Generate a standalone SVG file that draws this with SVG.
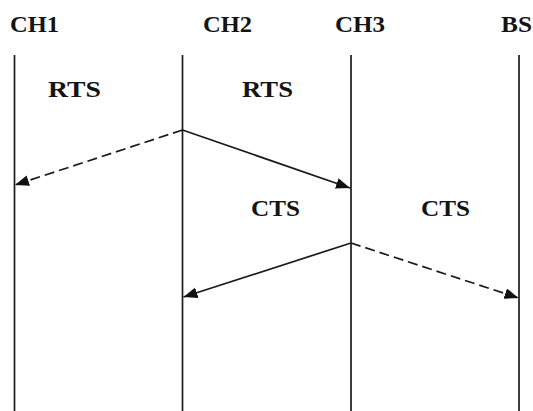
<svg xmlns="http://www.w3.org/2000/svg" width="533" height="411" viewBox="0 0 533 411">
  <style>
    .lbl { font-family: "Liberation Serif", "Times New Roman", serif; font-weight: bold; font-size: 24px; fill: #141414; }
    .life { stroke: #1a1a1a; stroke-width: 1.7; fill: none; }
    .msg { stroke: #1a1a1a; stroke-width: 1.7; fill: none; }
    .dash { stroke-dasharray: 10 5; }
  </style>
  <defs>
    <marker id="arr" markerUnits="userSpaceOnUse" markerWidth="16" markerHeight="12" refX="14" refY="5.5" orient="auto">
      <path d="M0,0 L14,5.5 L0,11 z" fill="#111"/>
    </marker>
  </defs>
  <rect width="533" height="411" fill="#fff"/>
  <g id="CH1">
    <text class="lbl" x="10" y="32" textLength="49" lengthAdjust="spacingAndGlyphs">CH1</text>
    <line class="life" x1="14.5" y1="55" x2="14.5" y2="411"/>
  </g>
  <g id="CH2">
    <text class="lbl" x="203" y="32" textLength="49" lengthAdjust="spacingAndGlyphs">CH2</text>
    <line class="life" x1="182.5" y1="55" x2="182.5" y2="411"/>
  </g>
  <g id="CH3">
    <text class="lbl" x="335" y="32" textLength="50" lengthAdjust="spacingAndGlyphs">CH3</text>
    <line class="life" x1="351" y1="55" x2="351" y2="411"/>
  </g>
  <g id="BS">
    <text class="lbl" x="501" y="32" textLength="31" lengthAdjust="spacingAndGlyphs">BS</text>
    <line class="life" x1="519" y1="55" x2="519" y2="411"/>
  </g>
  <g id="labels">
    <text class="lbl" x="48" y="97" textLength="53" lengthAdjust="spacingAndGlyphs">RTS</text>
    <text class="lbl" x="242" y="97" textLength="51" lengthAdjust="spacingAndGlyphs">RTS</text>
    <text class="lbl" x="251" y="216" textLength="49" lengthAdjust="spacingAndGlyphs">CTS</text>
    <text class="lbl" x="421" y="216" textLength="49" lengthAdjust="spacingAndGlyphs">CTS</text>
  </g>
  <g id="connectors">
    <line class="msg dash" x1="182.5" y1="130" x2="15" y2="185" marker-end="url(#arr)"/>
    <line class="msg" x1="182.5" y1="130" x2="350" y2="188" marker-end="url(#arr)"/>
    <line class="msg" x1="351" y1="243" x2="183.5" y2="297" marker-end="url(#arr)"/>
    <line class="msg dash" x1="351" y1="243" x2="518.5" y2="298" marker-end="url(#arr)"/>
  </g>
</svg>
